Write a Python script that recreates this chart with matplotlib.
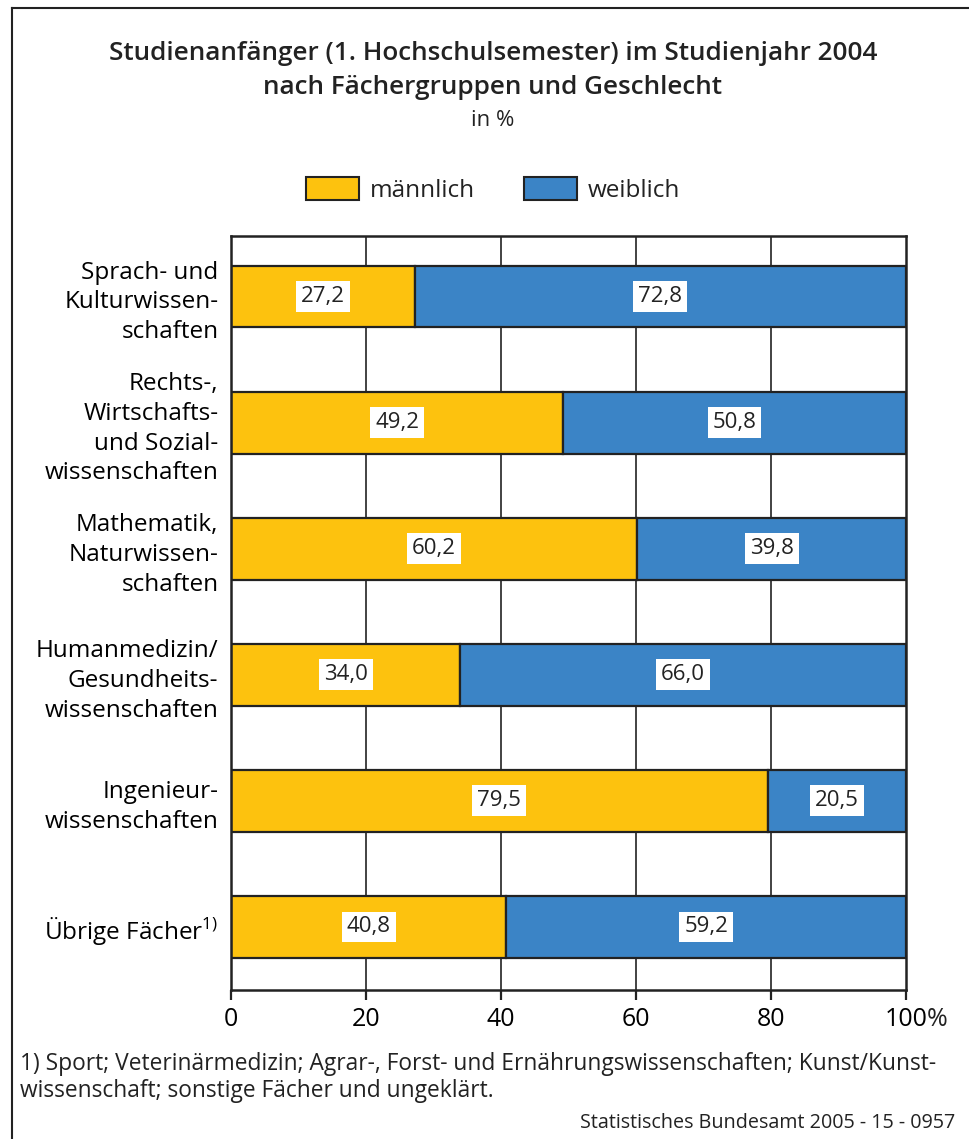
import numpy as np
import matplotlib; matplotlib.use("Agg")
import matplotlib.pyplot as plt
from matplotlib.lines import Line2D

plt.rcParams["font.family"] = ["Open Sans", "DejaVu Sans"]
plt.rcParams["mathtext.fontset"] = "custom"
plt.rcParams["mathtext.rm"] = "Open Sans"
plt.rcParams["text.color"] = "#222222"

categories = ["Sprach- und\nKulturwissen-\nschaften",
              "Rechts-,\nWirtschafts-\nund Sozial-\nwissenschaften",
              "Mathematik,\nNaturwissen-\nschaften",
              "Humanmedizin/\nGesundheits-\nwissenschaften",
              "Ingenieur-\nwissenschaften",
              "Übrige Fächer$^{\\mathrm{1)}}$"]
maennlich = [27.2, 49.2, 60.2, 34.0, 79.5, 40.8]
weiblich = [72.8, 50.8, 39.8, 66.0, 20.5, 59.2]
xticks = [0, 20, 40, 60, 80, 100]

YEL = "#FDC20E"
BLU = "#3B84C6"
W, H = 970, 1139

fig = plt.figure(figsize=(W/100, H/100), dpi=100)
ax = fig.add_axes([231/W, 1-990/H, (906-231)/W, (990-236)/H])

y = np.arange(len(categories))
ax.barh(y, maennlich, height=0.49, color=YEL, edgecolor="#222222", linewidth=1.6, zorder=2)
ax.barh(y, weiblich, left=maennlich, height=0.49, color=BLU, edgecolor="#222222", linewidth=1.6, zorder=2)

lab = dict(ha="center", va="center", fontsize=16, zorder=4,
           bbox=dict(boxstyle="square,pad=0.22", fc="white", ec="none"))
for i, (m, w) in enumerate(zip(maennlich, weiblich)):
    ax.text(m/2, i, f"{m:.1f}".replace(".", ","), **lab)
    ax.text(m + w/2, i, f"{w:.1f}".replace(".", ","), **lab)

ax.set_xlim(0, 100)
ax.set_ylim(5.5, -0.48)
ax.set_yticks(y)
ax.set_yticklabels(categories, fontsize=17.5, linespacing=1.33)
ax.tick_params(axis="y", length=0, pad=9)
ax.set_xticks(xticks)
ax.set_xticklabels([str(t) for t in xticks], fontsize=18)
ax.tick_params(axis="x", direction="out", length=7, width=1.6, pad=5, color="#222222")
ax.annotate("%", xy=(100, 0), xycoords=("data", "axes fraction"),
            xytext=(15, -12), textcoords="offset points", ha="left", va="top", fontsize=18)
for v in xticks[1:-1]:
    ax.axvline(v, color="#222222", lw=1.2, zorder=1)
for s in ax.spines.values():
    s.set_linewidth(1.8)
    s.set_color("#222222")

# title
fig.text(493/W, 1-54/H, "Studienanfänger (1. Hochschulsemester) im Studienjahr 2004",
         ha="center", va="center", fontsize=18.8, weight="semibold")
fig.text(493/W, 1-87/H, "nach Fächergruppen und Geschlecht",
         ha="center", va="center", fontsize=18.8, weight="semibold")
fig.text(493/W, 1-121/H, "in %", ha="center", va="center", fontsize=16)

# legend
handles = [plt.Rectangle((0, 0), 1, 1, fc=YEL, ec="#222222", lw=1.5),
           plt.Rectangle((0, 0), 1, 1, fc=BLU, ec="#222222", lw=1.5)]
fig.legend(handles, ["männlich", "weiblich"], loc="center", bbox_to_anchor=(493/W, 1-190/H),
           ncol=2, frameon=False, fontsize=17.5, handlelength=2.2, handleheight=1.05,
           handletextpad=0.45, columnspacing=2.0)

# footnote and source
fig.text(20/W, 1-1064/H, "1) Sport; Veterinärmedizin; Agrar-, Forst- und Ernährungswissenschaften; Kunst/Kunst-",
         ha="left", va="center", fontsize=16.4)
fig.text(20/W, 1-1091/H, "wissenschaft; sonstige Fächer und ungeklärt.",
         ha="left", va="center", fontsize=16.4)
fig.text(955/W, 1-1123/H, "Statistisches Bundesamt 2005 - 15 - 0957",
         ha="right", va="center", fontsize=14.2)

# frame
fig.add_artist(Line2D([12/W, 12/W], [0, 1-8/H], color="#222222", lw=1.5))
fig.add_artist(Line2D([12/W, 1], [1-8/H, 1-8/H], color="#222222", lw=1.5))

fig.savefig("out.png", dpi=100)
